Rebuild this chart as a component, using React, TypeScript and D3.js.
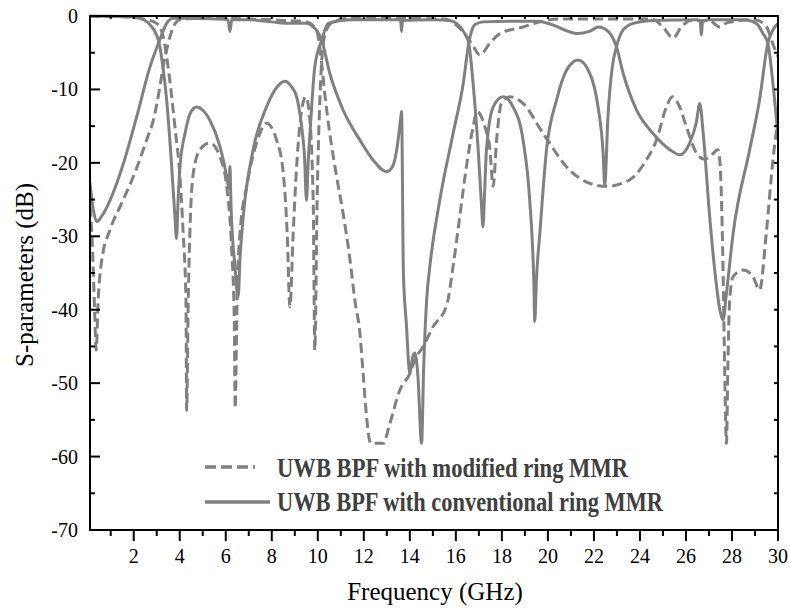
import React from 'react';
import * as d3 from 'd3';

// S-parameter traces: [frequency GHz, dB]
const convS21: [number, number][] = [
  [0.1, -22.8], [0.25, -26.5], [0.39, -28.0], [0.6, -27.3], [0.97, -25.1], [1.55, -20.1],
  [2.13, -13.7], [2.71, -6.9], [3.14, -3.2], [3.43, -1.0], [3.72, -0.3], [4.5, -0.3],
  [5.5, -0.4], [6.1, -0.5], [6.18, -2.1], [6.26, -0.5], [7.0, -0.5], [8.0, -0.8],
  [8.8, -1.0], [9.5, -1.0], [9.8, -1.5], [10.0, -2.2], [10.17, -3.3], [10.52, -7.8],
  [11.1, -12.8], [11.83, -16.9], [12.4, -19.6], [12.99, -21.2], [13.25, -20.5], [13.45, -17.8],
  [13.6, -14.0], [13.64, -13.0], [13.72, -35], [13.85, -42], [14.0, -48.7], [14.12, -46.5],
  [14.22, -45.9], [14.35, -49], [14.51, -58.2], [14.6, -48], [14.73, -38.7], [14.87, -34.1],
  [15.3, -25.1], [15.88, -16.0], [16.32, -9.2], [16.56, -3.7], [16.82, -1.2], [17.18, -0.8],
  [18.5, -0.7], [19.5, -0.7], [20.3, -1.3], [20.8, -2.0], [21.3, -2.4], [21.8, -2.1],
  [22.2, -1.5], [22.5, -1.8], [22.75, -2.6], [22.98, -4.2], [23.27, -7.8], [23.85, -12.8],
  [24.57, -16.0], [25.3, -18.2], [25.73, -18.9], [26.16, -17.3], [26.45, -14.5], [26.6, -11.9],
  [26.75, -16], [27.03, -27.3], [27.3, -36], [27.47, -40.0], [27.61, -41.4], [27.75, -38],
  [28.05, -29.6], [28.77, -18.2], [29.2, -11.4], [29.56, -3.7], [29.78, -1.9], [30, -1.0],
];

const convS11: [number, number][] = [
  [0.1, -0.05], [1.0, -0.05], [2.0, -0.15], [2.27, -0.3], [2.71, -1.2], [3.07, -3.3],
  [3.25, -6.5], [3.43, -11.4], [3.65, -20.5], [3.79, -27.3], [3.86, -30.3], [3.93, -25],
  [4.01, -20.5], [4.23, -16.0], [4.45, -13.3], [4.73, -12.4], [5.0, -12.8], [5.31, -14.2],
  [5.75, -17.8], [6.05, -22.0], [6.14, -23.5], [6.18, -20.5], [6.23, -26], [6.4, -34.1],
  [6.54, -38.2], [6.62, -33], [6.76, -27.3], [7.19, -18.2], [7.77, -12.4], [8.2, -9.8],
  [8.57, -8.9], [8.85, -9.6], [9.08, -11.0], [9.3, -15.1], [9.42, -19], [9.51, -25.1],
  [9.58, -20], [9.66, -16.0], [9.87, -6.9], [10.17, -3.3], [10.45, -1.0], [11.4, -0.5],
  [13.5, -0.5], [13.6, -0.6], [13.64, -2.1], [13.68, -0.6], [15, -0.5], [15.7, -0.6],
  [16.03, -1.0], [16.39, -2.4], [16.56, -3.7], [16.75, -9.2], [16.97, -18.2], [17.1, -25],
  [17.18, -28.7], [17.25, -24], [17.33, -18.2], [17.62, -12.4], [18.05, -11.0], [18.49, -12.4],
  [18.92, -16.9], [19.21, -25.1], [19.39, -36.4], [19.43, -41.6], [19.5, -36], [19.65, -29.6],
  [19.94, -18.2], [20.38, -11.4], [20.81, -7.4], [21.31, -6.0], [21.82, -7.8], [22.18, -12.4],
  [22.4, -18.7], [22.47, -23.0], [22.61, -13.7], [22.8, -6.9], [22.98, -4.2], [23.27, -1.9],
  [23.7, -1.0], [24.5, -0.6], [26.5, -0.5], [26.62, -0.8], [26.67, -2.6], [26.72, -0.8],
  [27, -0.5], [28.5, -0.5], [29.06, -1.0], [29.35, -2.4], [29.56, -3.7], [29.78, -9.2],
  [30, -16.4],
];

const modS21: [number, number][] = [
  [0.1, -26], [0.2, -31], [0.3, -40], [0.37, -45.5], [0.45, -39], [0.6, -33.5],
  [0.97, -29.1], [1.4, -26.0], [1.98, -21.9], [2.56, -16.9], [2.85, -14.2], [3.14, -9.6],
  [3.28, -6.9], [3.5, -3.7], [3.72, -1.5], [4.0, -0.5], [5, -0.3], [7, -0.4],
  [8.5, -0.6], [9.5, -0.8], [9.94, -1.9], [10.12, -5.1], [10.3, -10.5], [10.52, -16.0],
  [10.82, -21.9], [11.1, -26.9], [11.4, -33.2], [11.61, -38.7], [11.83, -43.2], [11.97, -48.7],
  [12.12, -54.6], [12.3, -58.2], [12.84, -58.2], [13.13, -55.5], [13.57, -50.9], [14.0, -48.7],
  [14.22, -46.8], [14.58, -45.0], [15.01, -42.3], [15.6, -39.4], [15.88, -34.1], [16.17, -27.3],
  [16.46, -20.5], [16.75, -15.1], [16.92, -13.0], [17.26, -15.1], [17.48, -18.2], [17.62, -23.2],
  [17.77, -16.9], [17.98, -11.9], [18.34, -11.0], [18.92, -11.9], [19.79, -16.0], [20.95, -21.0],
  [21.82, -22.8], [22.54, -23.2], [23.56, -22.3], [24.28, -19.6], [24.72, -16.9], [25.15, -12.4],
  [25.41, -11.0], [25.73, -12.4], [26.02, -15.1], [26.46, -18.7], [26.8, -19.5], [27.03, -19.2],
  [27.39, -18.2], [27.47, -19.6], [27.61, -34.1], [27.68, -47.8], [27.76, -58.2], [27.82, -48],
  [27.9, -38.7], [28.05, -35.5], [28.48, -34.6], [28.91, -35.5], [29.2, -37.3], [29.49, -29.6],
  [29.78, -19.6], [30, -14],
];

const modS11: [number, number][] = [
  [0.1, -0.05], [1.5, -0.1], [2.56, -0.5], [3.0, -1.0], [3.28, -2.8], [3.43, -5.5],
  [3.6, -9.6], [3.79, -15.1], [4.01, -21.9], [4.15, -29.6], [4.27, -38.7], [4.3, -53.7],
  [4.37, -38.7], [4.44, -29.6], [4.59, -21.4], [4.88, -18.2], [5.31, -17.3], [5.75, -19.2],
  [6.04, -23.2], [6.26, -31.9], [6.37, -41.4], [6.41, -53.4], [6.47, -43.2], [6.5, -37.3],
  [6.62, -29.6], [6.91, -23.2], [7.34, -17.3], [7.77, -14.6], [8.21, -16.9], [8.5, -21.4],
  [8.67, -29.6], [8.79, -39.6], [8.93, -29.6], [9.08, -20.5], [9.3, -12.8], [9.48, -11.0],
  [9.62, -13], [9.8, -25.1], [9.87, -45.5], [9.97, -25.1], [10.09, -11.4], [10.21, -4.6],
  [10.38, -1.9], [10.67, -0.8], [11.5, -0.3], [15.5, -0.4], [16.24, -1.9], [16.68, -3.7],
  [17.04, -5.3], [17.48, -3.7], [17.91, -2.4], [18.92, -1.5], [19.65, -0.8], [20.5, -0.4],
  [24.5, -0.4], [25.0, -1.5], [25.44, -3.0], [25.8, -1.5], [26.2, -0.6], [27.0, -0.6],
  [27.47, -1.5], [27.8, -0.9], [29.0, -0.5], [29.5, -1.5], [29.8, -4.0], [30, -5.5],
];

const xTicks = [2, 4, 6, 8, 10, 12, 14, 16, 18, 20, 22, 24, 26, 28, 30];
const yTicks = [0, -10, -20, -30, -40, -50, -60, -70];
const legendLabels = ['UWB BPF with modified ring MMR', 'UWB BPF with conventional ring MMR'];

const W = 790, H = 609;
const left = 90, right = 778, top = 16, bottom = 530;
const gray = '#808080';
const serif = { fontFamily: '"Liberation Serif", "DejaVu Serif", "Times New Roman", serif' };

export default function App() {
  const x = d3.scaleLinear().domain([0.1, 30]).range([left, right]);
  const y = d3.scaleLinear().domain([-70, 0]).range([bottom, top]);
  const line = d3.line<[number, number]>()
    .x(d => x(d[0]))
    .y(d => y(d[1]))
    .curve(d3.curveMonotoneX);

  const minorX = d3.range(1, 30, 2);
  const allX = d3.range(1, 31, 1);
  const minorY = d3.range(-5, -70, -10);
  const allY = d3.range(0, -71, -5);

  return (
    <svg width={W} height={H} style={{ display: 'block', position: 'absolute', left: 0, top: 0 }}>
      <defs>
        <clipPath id="plot">
          <rect x={left} y={top - 2} width={right - left} height={bottom - top + 2} />
        </clipPath>
      </defs>
      <rect width={W} height={H} fill="#fff" />

      <g clipPath="url(#plot)" fill="none" stroke={gray} strokeWidth={3} strokeLinejoin="round">
        <path d={line(modS11) || ''} strokeDasharray="10,5" />
        <path d={line(modS21) || ''} strokeDasharray="10,5" />
        <path d={line(convS11) || ''} />
        <path d={line(convS21) || ''} />
      </g>

      {/* frame */}
      <g stroke="#000" strokeWidth={2} fill="none">
        <rect x={left} y={top} width={right - left} height={bottom - top} />
        {xTicks.map(t => <line key={'xb' + t} x1={x(t)} x2={x(t)} y1={bottom} y2={bottom + 11} />)}
        {minorX.map(t => <line key={'xm' + t} x1={x(t)} x2={x(t)} y1={bottom} y2={bottom + 6} />)}
        {allX.map(t => <line key={'xt' + t} x1={x(t)} x2={x(t)} y1={top} y2={top + 3} />)}
        {yTicks.map(t => <line key={'yl' + t} x1={left} x2={left + 10} y1={y(t)} y2={y(t)} />)}
        {minorY.map(t => <line key={'ym' + t} x1={left} x2={left + 5} y1={y(t)} y2={y(t)} />)}
        {allY.map(t => <line key={'yr' + t} x1={right} x2={right - 4} y1={y(t)} y2={y(t)} />)}
      </g>

      <g fontSize={20} fill="#000" style={serif}>
        {xTicks.map(t => (
          <text key={'xl' + t} x={x(t)} y={563} textAnchor="middle" style={serif}>{t}</text>
        ))}
        {yTicks.map(t => (
          <text key={'yl' + t} x={78} y={y(t)} dy="0.35em" textAnchor="end" style={serif}>{t}</text>
        ))}
      </g>

      <text x={435} y={600} fontSize={25} textAnchor="middle" style={serif}>Frequency (GHz)</text>
      <text transform="translate(33,275) rotate(-90)" fontSize={25} textAnchor="middle" style={serif}>S-parameters (dB)</text>

      {/* legend */}
      <line x1={205} x2={255} y1={467} y2={467} stroke={gray} strokeWidth={3.5} strokeDasharray="11,5" />
      <line x1={205} x2={270} y1={502} y2={502} stroke={gray} strokeWidth={3.5} />
      <text x={277} y={477} fontSize={27} fontWeight="bold" fill="#404040" style={serif}
        textLength={351} lengthAdjust="spacingAndGlyphs">{legendLabels[0]}</text>
      <text x={277} y={511} fontSize={27} fontWeight="bold" fill="#404040" style={serif}
        textLength={386} lengthAdjust="spacingAndGlyphs">{legendLabels[1]}</text>
    </svg>
  );
}
